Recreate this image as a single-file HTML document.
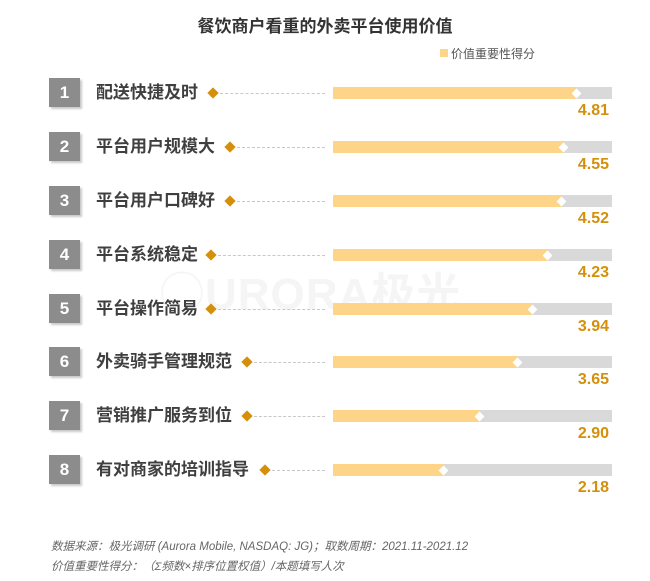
<!DOCTYPE html>
<html><head><meta charset="utf-8"><style>
body{margin:0;width:650px;height:581px;background:#fff;position:relative;overflow:hidden;font-family:"Liberation Sans","Noto Sans CJK SC",sans-serif}
.a{position:absolute}
.box{position:absolute;left:49px;width:31px;height:29px;background:#8c8c8c;color:#fff;font-weight:bold;font-size:17px;text-align:center;line-height:29px;box-shadow:2px 2px 2px #c8c8c8}
.lab{position:absolute;left:96px;font-size:17px;font-weight:bold;color:#3f3f3f;line-height:20px}
.dia{position:absolute;width:8px;height:8px;background:#d4900a;transform:rotate(45deg)}
.dot{position:absolute;border-top:1px dashed #c8c8c8;height:0}
.bg{position:absolute;left:333px;width:279px;height:12px;background:#d9d9d9}
.fg{position:absolute;left:333px;height:12px;background:#fdd488}
.wd{position:absolute;width:7px;height:7px;background:#fff;transform:rotate(45deg)}
.val{position:absolute;right:41px;font-size:16px;font-weight:bold;color:#d4900a;line-height:18px}
.ft{position:absolute;left:51px;font-size:11.5px;font-style:italic;color:#666}
</style></head><body>
<div class="a" style="left:0;width:650px;top:12px;text-align:center;font-size:17px;font-weight:bold;color:#333">餐饮商户看重的外卖平台使用价值</div>
<div class="a" style="left:440px;top:49px;width:8px;height:8px;background:#fdd488"></div>
<div class="a" style="left:451px;top:45px;font-size:12px;color:#555">价值重要性得分</div>
<div class="a" style="left:160px;top:258px;font-size:44px;font-weight:bold;color:#f5f5f5;letter-spacing:1px">◯URORA极光</div>
<div id="rows"></div>
<script>
var d=[["配送快捷及时",4.81,93,213],["平台用户规模大",4.55,147,230],["平台用户口碑好",4.52,201,230],["平台系统稳定",4.23,255,211],["平台操作简易",3.94,309,211],["外卖骑手管理规范",3.65,362,247],["营销推广服务到位",2.90,416,247],["有对商家的培训指导",2.18,470,265]];
var h="";
d.forEach(function(r,i){var y=r[2],w=Math.round(r[1]*50.5);
h+='<div class="box" style="top:'+(y-15)+'px">'+(i+1)+'</div>';
h+='<div class="lab" style="top:'+(y-10)+'px">'+r[0]+'</div>';
h+='<div class="dia" style="left:'+(r[3]-4)+'px;top:'+(y-4)+'px"></div>';
h+='<div class="dot" style="left:'+(r[3]+7)+'px;width:'+(325-r[3]-7)+'px;top:'+y+'px"></div>';
h+='<div class="bg" style="top:'+(y-6)+'px"></div>';
h+='<div class="fg" style="top:'+(y-6)+'px;width:'+w+'px"></div>';
h+='<div class="wd" style="left:'+(333+w-3)+'px;top:'+(y-3.5)+'px"></div>';
h+='<div class="val" style="top:'+(y+9)+'px">'+r[1].toFixed(2)+'</div>';});
document.getElementById("rows").innerHTML=h;
</script>
<div class="ft" style="top:538px">数据来源：极光调研 (Aurora Mobile, NASDAQ: JG)；取数周期：2021.11-2021.12</div>
<div class="ft" style="top:558px">价值重要性得分：（Σ频数×排序位置权值）/本题填写人次</div>
</body></html>
